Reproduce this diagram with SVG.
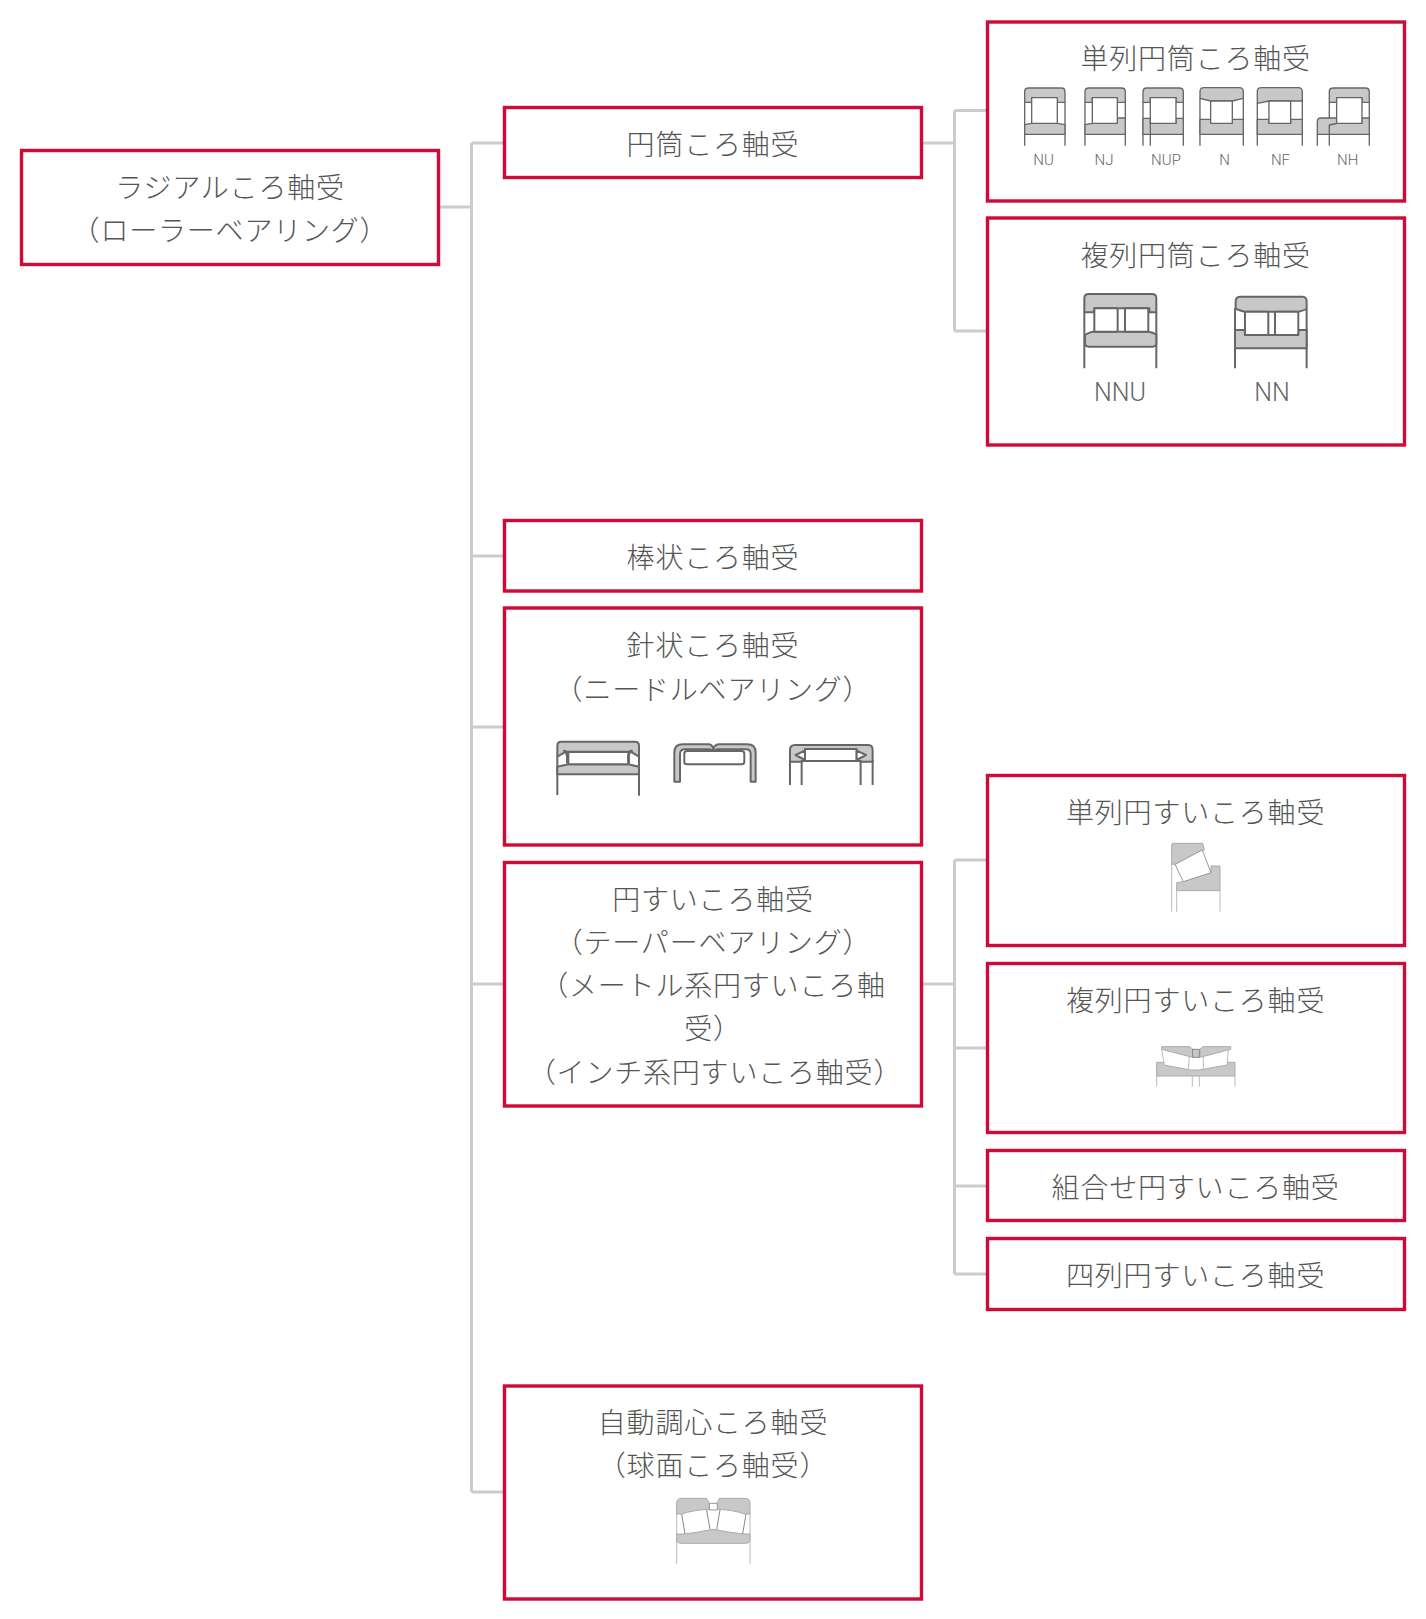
<svg xmlns="http://www.w3.org/2000/svg" width="1426" height="1619" viewBox="0 0 1426 1619">
<style>
.box{fill:#fff;stroke:#cf0a37;stroke-width:3.400}
.t{font-family:"Noto Sans CJK JP","Noto Sans",sans-serif;font-size:28px;font-weight:300;fill:#555;text-anchor:middle;letter-spacing:.8px}
.l{font-family:Roboto,"Noto Sans",sans-serif;font-weight:300;fill:#666;text-anchor:middle}
.con{fill:none;stroke:#ccc;stroke-width:3}
.g{fill:#c8c8c8;stroke:#666;stroke-width:4;stroke-linejoin:round}
.w{fill:#fff;stroke:#666;stroke-width:4;stroke-linejoin:round}
.s{fill:none;stroke:#666;stroke-width:4}
.k .g{stroke-width:6}.k .w{stroke-width:6}.k .s{stroke-width:6}
.p .g{stroke:#aaa;stroke-width:3}.p .w{stroke:#999;stroke-width:3}.p .s{stroke:#bbb;stroke-width:3}
</style>
<rect width="1426" height="1619" fill="#fff"/>
<g id="connectors" class="con">
<path d="M440 207H471.500M471.500 143V1492M471.500 143H503M471.500 556H503M471.500 727H503M471.500 984H503M471.500 1492H503"/>
<path d="M923 143H954.500M954.500 110.500V331M954.500 110.500H987M954.500 331H987"/>
<path d="M923 984H954.500M954.500 860V1274M954.500 860H987M954.500 1048H987M954.500 1186H987M954.500 1274H987"/>
</g>
<g id="root"><rect class="box" x="21.500" y="150.500" width="417" height="114"/>
<text class="t" x="230" y="198">ラジアルころ軸受</text><text class="t" x="230" y="241">（ローラーベアリング）</text></g>
<g id="cyl"><rect class="box" x="504.500" y="107.500" width="417" height="70"/><text class="t" x="713" y="155">円筒ころ軸受</text></g>
<g id="rod"><rect class="box" x="504.500" y="520.500" width="417" height="70.500"/><text class="t" x="713" y="568">棒状ころ軸受</text></g>
<g id="needle"><rect class="box" x="504.500" y="608" width="417" height="237"/>
<text class="t" x="713" y="656">針状ころ軸受</text><text class="t" x="713" y="700">（ニードルベアリング）</text>
<g class="k" transform="translate(540 730) scale(.3333)">
<path class="s" d="M52 80V195M297 80V197"/>
<path class="g" d="M52 80V47Q52 35 64 35H285Q297 35 297 47V80L272 65H78Z"/>
<path class="g" d="M52 110L85 103H265L297 110V133H52Z"/>
<path class="w" d="M85 66H266V103H85Z"/>
<path class="s" d="M70 64Q84 60 82 100M278 64Q262 60 266 100" style="stroke-width:8"/>
</g>
<g class="k" transform="translate(540 730) scale(.3333)">
<path class="g" d="M403 155V68Q403 43 428 43H505Q516 43 520 56Q526 43 537 43H622Q647 43 647 68V155H632V72Q632 58 618 58H530L520 62L510 58H435Q420 58 420 72V155Z"/>
<rect class="w" x="433" y="63" width="180" height="40" rx="8"/>
</g>
<g class="k" transform="translate(540 730) scale(.3333)">
<path class="s" d="M750 90V165M785 90V165M962 90V165M998 90V165"/>
<path class="g" d="M750 95V60Q750 45 765 45H985Q998 45 998 60V95H962V93H785V95Z"/>
<path class="w" d="M795 57H950V93H795Z"/>
<path class="w" d="M795 62L767 75L795 90ZM950 62L978 75L950 90Z"/>
</g></g>
<g id="taper"><rect class="box" x="504.500" y="862.500" width="417" height="243.500"/>
<text class="t" x="713" y="910">円すいころ軸受</text><text class="t" x="713" y="953">（テーパーベアリング）</text><text class="t" x="713" y="996">（メートル系円すいころ軸</text><text class="t" x="713" y="1039">受）</text><text class="t" x="715" y="1083">（インチ系円すいころ軸受）</text></g>
<g id="spherical"><rect class="box" x="504.500" y="1386" width="417" height="213"/>
<text class="t" x="713" y="1433">自動調心ころ軸受</text><text class="t" x="713" y="1476">（球面ころ軸受）</text>
<g class="p" transform="translate(660 1490) scale(.3333)">
<path class="s" d="M50 70V222M270 70V222"/>
<path class="g" d="M50 40Q50 25 65 25H140L148 40V58Q100 60 65 72H50Z"/>
<path class="g" d="M172 40L178 25H255Q270 25 270 40V72H255Q220 60 172 58Z"/>
<path class="w" d="M148 40H172V60H148Z"/>
<path class="g" d="M50 132H72Q110 128 160 118Q210 128 250 132H270V150Q270 160 255 160H65Q50 160 50 150Z"/>
<path class="s" d="M65 72L75 132M140 60L150 118M180 60L170 118M258 72L248 132" style="stroke:#888"/>
</g></g>
<g id="sr-cyl"><rect class="box" x="987.500" y="22" width="417" height="179"/>
<text class="t" x="1195.600" y="69">単列円筒ころ軸受</text>
<g transform="translate(980 0) scale(.3333)">
<path class="s" d="M134 307V437M255 307V437"/>
<path class="g" d="M134 307V275Q134 264 146 264H244Q255 264 255 275V307H232V293H155V307Z"/>
<path class="g" d="M134 374L155 370H232L255 374V403H134Z"/>
<rect class="w" x="155" y="293" width="77" height="77"/>
<path class="s" d="M315 307V437M436 307V437"/>
<path class="g" d="M315 307V275Q315 264 327 264H424Q436 264 436 275V307H412V293H337V307Z"/>
<path class="g" d="M315 374L337 370H412V354H436V403H315Z"/>
<rect class="w" x="337" y="293" width="75" height="77"/>
<path class="s" d="M489 307V437M610 307V437"/>
<path class="g" d="M489 307V275Q489 264 501 264H598Q610 264 610 275V307H588V293H511V307Z"/>
<path class="g" d="M489 355H511V370H588V355H610V403H489Z"/>
<rect class="w" x="511" y="293" width="77" height="77"/>
<path class="s" d="M511 370V437"/>
<path class="s" d="M660 295V437M790 295V437"/>
<path class="g" d="M660 295V275Q660 263 672 263H778Q790 263 790 275V295L757 303H692Z"/>
<path class="g" d="M660 358H692V370H757V358H790V403H660Z"/>
<rect class="w" x="692" y="303" width="65" height="67"/>
<path class="s" d="M832 310V437M967 303V437"/>
<path class="g" d="M832 310V275Q832 263 844 263H955Q967 263 967 275V303H867L832 310Z"/>
<path class="g" d="M832 358H867V370H932V358H967V403H832Z"/>
<rect class="w" x="867" y="303" width="65" height="67"/>
<path class="s" d="M1048 307V437M1168 307V437M1012 403V437"/>
<path class="g" d="M1048 307V275Q1048 264 1060 264H1156Q1168 264 1168 275V307H1146V293H1070V307Z"/>
<path class="g" d="M1048 375L1070 370H1146V354H1168V403H1048Z"/>
<path class="g" d="M1012 403V366Q1012 354 1022 354H1070V370L1048 375V403Z"/>
<rect class="w" x="1070" y="293" width="76" height="77"/>
</g>
<g font-size="15"><text class="l" x="1043.500" y="165">NU</text><text class="l" x="1104" y="165">NJ</text><text class="l" x="1166" y="165">NUP</text><text class="l" x="1224.500" y="165">N</text><text class="l" x="1280.500" y="165">NF</text><text class="l" x="1347.700" y="165">NH</text></g></g>
<g id="dr-cyl"><rect class="box" x="987.500" y="218" width="417" height="227"/>
<text class="t" x="1195.600" y="266">複列円筒ころ軸受</text>
<g transform="translate(1040 280) scale(.3333)" class="k">
<path class="s" d="M133 97V265M349 97V265"/>
<path class="g" d="M133 97V55Q133 42 146 42H336Q349 42 349 55V97H328V85H163V97Z"/>
<path class="g" d="M135 165Q150 155 160 155H325Q335 155 349 163V190Q349 200 338 200H146Q135 200 135 190Z"/>
<rect class="w" x="163" y="85" width="70" height="70" rx="4"/><rect class="w" x="255" y="85" width="70" height="70" rx="4"/>
<path class="s" d="M585 85V265M800 85V265"/>
<path class="g" d="M587 65Q587 50 600 50H788Q800 50 800 65V85Q800 90 775 95H615Q590 90 587 85Z"/>
<path class="g" d="M585 150H615V165H775V150H800V205H585Z"/>
<rect class="w" x="615" y="95" width="70" height="70" rx="4"/><rect class="w" x="705" y="95" width="70" height="70" rx="4"/>
</g>
<g font-size="25"><text class="l" x="1120" y="401">NNU</text><text class="l" x="1272" y="401">NN</text></g></g>
<g id="sr-taper"><rect class="box" x="987.500" y="775.500" width="417" height="170"/>
<text class="t" x="1195.600" y="823">単列円すいころ軸受</text>
<g class="p" transform="translate(1140 830) scale(.3333)">
<path class="s" d="M95 103V245M110 182V245M240 182V245"/>
<path class="g" d="M95 45Q95 40 100 40H188L193 60L105 103H95Z"/>
<path class="g" d="M110 158L130 155L213 128V108H240V182H110Z"/>
<path class="w" d="M105 103L187 60L213 128L130 155Z"/>
</g></g>
<g id="dr-taper"><rect class="box" x="987.500" y="963.500" width="417" height="169"/>
<text class="t" x="1195.600" y="1011">複列円すいころ軸受</text>
<g class="p" transform="translate(1140 1030) scale(.3333)">
<path class="s" d="M50 138V170M157 138V170M178 138V170M285 138V170"/>
<path class="g" d="M65 50H150L158 58V82L65 58Z"/>
<path class="g" d="M180 58L188 50H272V58L180 82Z"/>
<path class="g" d="M50 97H72V105L150 120H178L262 105V97H285V138H50Z"/>
<path class="s" d="M65 58L72 97M148 80L145 120M190 80L190 120M265 58L262 97"/>
<rect x="158" y="58" width="20" height="24" fill="#c8c8c8" stroke="#888" stroke-width="3"/>
</g></g>
<g id="combo"><rect class="box" x="987.500" y="1150.500" width="417" height="70"/><text class="t" x="1195.600" y="1198">組合せ円すいころ軸受</text></g>
<g id="four"><rect class="box" x="987.500" y="1238.500" width="417" height="71"/><text class="t" x="1195.600" y="1286">四列円すいころ軸受</text></g>
</svg>
